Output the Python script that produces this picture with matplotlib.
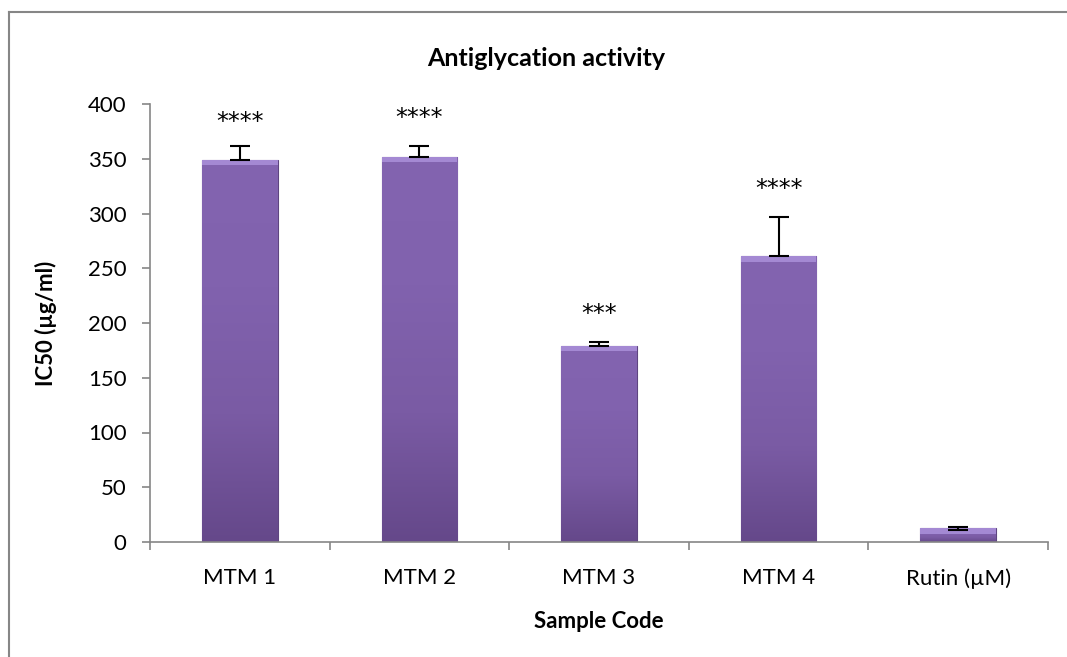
import matplotlib
matplotlib.use("Agg")
import matplotlib.pyplot as plt
import numpy as np
from matplotlib.lines import Line2D

plt.rcParams['font.family'] = ['Lato', 'DejaVu Sans']

samples = ["MTM 1", "MTM 2", "MTM 3", "MTM 4", "Rutin (µM)"]
ic50 = [349, 352, 179, 261, 12.5]
err_low = [0, 0, 0, 0, 1.5]
err_high = [13, 10, 4, 36, 1.5]
stars = ["****", "****", "***", "****", ""]
star_y = [384, 387, 208, 322, 0]

fig = plt.figure(figsize=(10.67, 6.57), dpi=100)
ax = fig.add_axes([150 / 1067, 1 - 542 / 657, 898 / 1067, 438 / 657])

x = np.arange(len(samples))
bars = ax.bar(x, ic50, width=0.42, color="#7E5FA8", edgecolor="#5E4580",
              linewidth=0.8, zorder=2)

# vertical gradient inside each bar to mimic the Excel bevel look
grad = np.linspace(0, 1, 256).reshape(-1, 1)
cmap = matplotlib.colors.LinearSegmentedColormap.from_list(
    "purp", ["#65488A", "#7A5BA4", "#8162AE", "#8364B0"])
for b in bars:
    bx, by = b.get_x(), b.get_y()
    w, h = b.get_width(), b.get_height()
    im = ax.imshow(grad, cmap=cmap, aspect="auto", origin="lower",
                   extent=[bx, bx + w, by, by + h], zorder=2.5)
    im.set_clip_path(b)
    top = min(5, h * 0.4)
    ax.fill_between([bx, bx + w], by + h - top, by + h, color="#A88ED8",
                    alpha=0.9, zorder=2.6, linewidth=0)

ax.errorbar(x, ic50, yerr=[err_low, err_high], fmt="none", ecolor="black",
            elinewidth=1.5, capsize=7, capthick=1.5, zorder=4)

for xi, s, sy in zip(x, stars, star_y):
    if s:
        ax.text(xi, sy, s, ha="center", va="center", fontsize=17,
                family="DejaVu Sans")

ax.set_xlim(-0.5, len(samples) - 0.5)
ax.set_ylim(0, 400)
ax.set_yticks(np.arange(0, 401, 50))
ax.set_xticks(x)
ax.set_xticklabels(samples)
ax.set_xticks(np.arange(-0.5, len(samples), 1), minor=True)
ax.tick_params(axis="x", which="major", length=0, pad=19, labelsize=16)
ax.tick_params(axis="x", which="minor", length=6, color="#868686", width=1.2)
ax.tick_params(axis="y", length=6, color="#868686", width=1.2, labelsize=16, pad=11)

for side in ["top", "right"]:
    ax.spines[side].set_visible(False)
for side in ["left", "bottom"]:
    ax.spines[side].set_color("#868686")
    ax.spines[side].set_linewidth(1.2)

ax.set_xlabel("Sample Code", fontsize=16, fontweight="bold", labelpad=16)
ax.set_ylabel("IC50 (µg/ml)", fontsize=16, fontweight="bold", labelpad=22)
fig.text(546 / 1067, 1 - 58 / 657, "Antiglycation activity", ha="center",
         va="center", fontsize=18, fontweight="bold")

# chart area border (only left and top are within the picture)
fig.add_artist(Line2D([9 / 1067, 1.0], [1 - 12 / 657, 1 - 12 / 657],
                      color="#868686", linewidth=1.5))
fig.add_artist(Line2D([9 / 1067, 9 / 1067], [0, 1 - 12 / 657],
                      color="#868686", linewidth=1.5))

fig.savefig("out.png", dpi=100)
